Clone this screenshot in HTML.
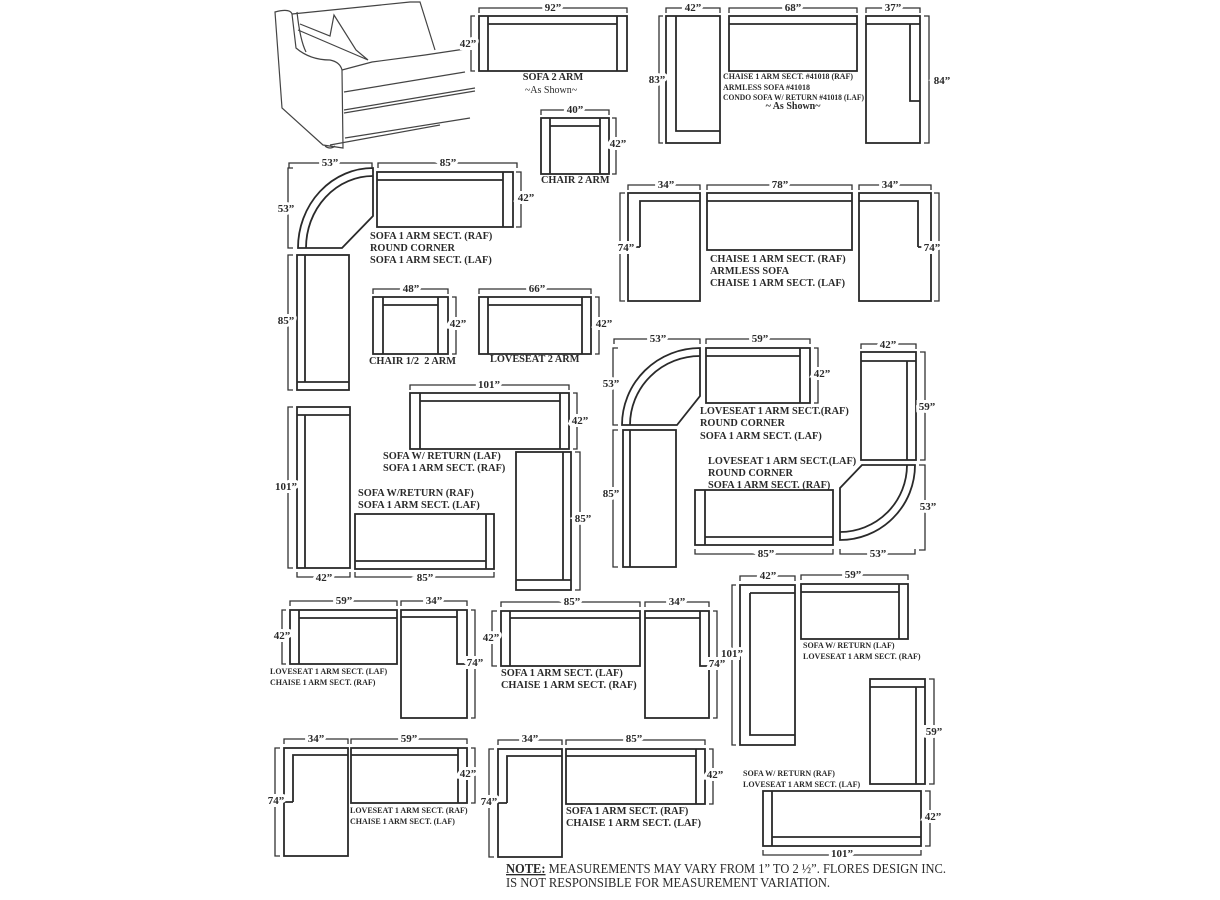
<!DOCTYPE html>
<html><head><meta charset="utf-8"><style>
html,body{margin:0;padding:0;background:#fff}
svg{display:block}
.s{fill:none;stroke:#2a2a2a;stroke-width:1.8}
.d{fill:none;stroke:#333;stroke-width:1.3}
.sk{fill:none;stroke:#444;stroke-width:1.2}
text{font-family:"Liberation Serif",serif;fill:#2a2a2a}
.m{font-size:11px;font-weight:bold;text-anchor:middle;stroke:#fff;stroke-width:6px;paint-order:stroke}
.l{font-size:10.3px;font-weight:bold}
.sm{font-size:8px;font-weight:bold}
</style></head><body>
<svg width="1220" height="900" viewBox="0 0 1220 900" xmlns="http://www.w3.org/2000/svg">
<!-- sketch -->
<g class="sk">
<path d="M275,12 Q290,8 292,14 L296,48 Q310,60 330,60 Q340,62 342,70 L343,148 L323,145 L282,108 Z"/>
<path d="M292,14 L410,2 L420,2 L435,50"/>
<path d="M297,12 Q300,40 306,52"/>
<path d="M300,24 L330,36 L334,15 L356,50 L368,60 L298,30"/>
<path d="M342,70 L372,62 L425,55 L465,49"/>
<path d="M344,92 L465,72"/>
<path d="M344,110 L475,88 M344,113 L475,91"/>
<path d="M330,145 L440,125 M345,138 L470,118"/>
<path d="M325,146 Q330,150 335,146"/>
</g>
<!-- SOFA 2 ARM -->
<rect class="s" x="479" y="16" width="148" height="55"/><path class="s" d="M488,16V71M617,16V71M488,24H617"/>
<path class="d" d="M479,13V8H627V13M475,16H471V71H475"/>
<text class="m" x="553" y="11">92”</text><text class="m" x="468" y="47">42”</text>
<text class="l" x="553" y="80" text-anchor="middle">SOFA 2 ARM</text><text x="551" y="93" text-anchor="middle" style="font-size:10px">~As Shown~</text>
<!-- 41018 set -->
<rect class="s" x="666" y="16" width="54" height="127"/><path class="s" d="M676,16V131H720"/>
<rect class="s" x="729" y="16" width="128" height="55"/><path class="s" d="M729,24H857"/>
<rect class="s" x="866" y="16" width="54" height="127"/><path class="s" d="M910,24V101H920M866,24H920"/>
<path class="d" d="M666,13V8H720V13M729,13V8H857V13M866,13V8H920V13M663,16H659V143H663M924,16H929V143H924"/>
<text class="m" x="693" y="11">42”</text><text class="m" x="793" y="11">68”</text><text class="m" x="893" y="11">37”</text>
<text class="m" x="657" y="83">83”</text><text class="m" x="942" y="84">84”</text>
<text class="sm" x="723" y="79" textLength="130" lengthAdjust="spacingAndGlyphs">CHAISE 1 ARM SECT. #41018 (RAF)</text>
<text class="sm" x="723" y="90">ARMLESS SOFA #41018</text>
<text class="sm" x="723" y="100" textLength="141" lengthAdjust="spacingAndGlyphs">CONDO SOFA W/ RETURN #41018 (LAF)</text>
<text x="793" y="109" text-anchor="middle" style="font-size:10px;font-weight:bold">~ As Shown~</text>
<!-- chair 2 arm -->
<rect class="s" x="541" y="118" width="68" height="56"/><path class="s" d="M550,118V174M600,118V174M550,126H600"/>
<path class="d" d="M541,115V110H609V115M612,118H616V174H612"/>
<text class="m" x="575" y="113">40”</text><text class="m" x="618" y="147">42”</text>
<text class="l" x="541" y="183">CHAIR 2 ARM</text>
<!-- round corner group 1 -->
<path class="s" d="M298,248A75,80 0 0 1 373,168V216L342,248Z"/><path class="s" d="M306,248A67,72 0 0 1 373,176"/>
<rect class="s" x="377" y="172" width="136" height="55"/><path class="s" d="M503,172V227M377,180H503"/>
<rect class="s" x="297" y="255" width="52" height="135"/><path class="s" d="M305,255V382M297,382H349"/>
<path class="d" d="M289,168V163H372V168M378,168V163H517V168M293,168H288V248H293M516,172H521V227H516M293,255H288V390H293"/>
<text class="m" x="330" y="166">53”</text><text class="m" x="448" y="166">85”</text>
<text class="m" x="286" y="212">53”</text><text class="m" x="526" y="201">42”</text><text class="m" x="286" y="324">85”</text>
<text class="l" x="370" y="239">SOFA 1 ARM SECT. (RAF)</text><text class="l" x="370" y="251">ROUND CORNER</text><text class="l" x="370" y="263">SOFA 1 ARM SECT. (LAF)</text>
<!-- chair 1/2 -->
<rect class="s" x="373" y="297" width="75" height="57"/><path class="s" d="M383,297V354M438,297V354M383,305H438"/>
<path class="d" d="M373,294V289H448V294M452,297H456V354H452"/>
<text class="m" x="411" y="292">48”</text><text class="m" x="458" y="327">42”</text>
<text class="l" x="369" y="364">CHAIR 1/2&#160; 2 ARM</text>
<!-- loveseat 2 arm -->
<rect class="s" x="479" y="297" width="112" height="57"/><path class="s" d="M488,297V354M582,297V354M488,305H582"/>
<path class="d" d="M479,294V289H591V294M595,297H599V354H595"/>
<text class="m" x="537" y="292">66”</text><text class="m" x="604" y="327">42”</text>
<text class="l" x="490" y="362">LOVESEAT 2 ARM</text>
<!-- chaise / armless / chaise -->
<rect class="s" x="628" y="193" width="72" height="108"/><path class="s" d="M640,247V201H700M628,247H640"/>
<rect class="s" x="707" y="193" width="145" height="57"/><path class="s" d="M707,201H852"/>
<rect class="s" x="859" y="193" width="72" height="108"/><path class="s" d="M918,247V201H859M918,247H931"/>
<path class="d" d="M628,190V185H700V190M707,190V185H852V190M859,190V185H931V190M625,193H620V301H625M934,193H939V301H934"/>
<text class="m" x="666" y="188">34”</text><text class="m" x="780" y="188">78”</text><text class="m" x="890" y="188">34”</text>
<text class="m" x="626" y="251">74”</text><text class="m" x="932" y="251">74”</text>
<text class="l" x="710" y="262">CHAISE 1 ARM SECT. (RAF)</text><text class="l" x="710" y="274">ARMLESS SOFA</text><text class="l" x="710" y="286">CHAISE 1 ARM SECT. (LAF)</text>
<!-- sofa w/ return group -->
<rect class="s" x="410" y="393" width="159" height="56"/><path class="s" d="M420,393V449M560,393V449M420,401H560"/>
<rect class="s" x="297" y="407" width="53" height="161"/><path class="s" d="M297,415H350M305,415V568"/>
<rect class="s" x="355" y="514" width="139" height="55"/><path class="s" d="M355,561H486M486,514V569"/>
<rect class="s" x="516" y="452" width="55" height="138"/><path class="s" d="M563,452V580M516,580H571"/>
<path class="d" d="M410,390V385H569V390M573,393H577V449H573M293,407H288V568H293M297,572V577H350V572M355,572V577H494V572M575,452H580V590H575"/>
<text class="m" x="489" y="388">101”</text><text class="m" x="580" y="424">42”</text><text class="m" x="286" y="490">101”</text>
<text class="m" x="324" y="581">42”</text><text class="m" x="425" y="581">85”</text><text class="m" x="583" y="522">85”</text>
<text class="l" x="383" y="459">SOFA W/ RETURN (LAF)</text><text class="l" x="383" y="471">SOFA 1 ARM SECT. (RAF)</text>
<text class="l" x="358" y="496">SOFA W/RETURN (RAF)</text><text class="l" x="358" y="508">SOFA 1 ARM SECT. (LAF)</text>
<!-- round corner group 2 -->
<path class="s" d="M622,425A78,77 0 0 1 700,348V396L677,425Z"/><path class="s" d="M630,425A70,69 0 0 1 700,356"/>
<rect class="s" x="706" y="348" width="104" height="55"/><path class="s" d="M800,348V403M706,356H800"/>
<rect class="s" x="623" y="430" width="53" height="137"/><path class="s" d="M630,430V567"/>
<path class="d" d="M614,344V339H700V344M706,344V339H810V344M618,348H613V425H618M814,348H818V403H814M618,430H613V567H618"/>
<text class="m" x="658" y="342">53”</text><text class="m" x="760" y="342">59”</text>
<text class="m" x="611" y="387">53”</text><text class="m" x="822" y="377">42”</text><text class="m" x="611" y="497">85”</text>
<text class="l" x="700" y="414">LOVESEAT 1 ARM SECT.(RAF)</text><text class="l" x="700" y="426">ROUND CORNER</text><text class="l" x="700" y="439">SOFA 1 ARM SECT. (LAF)</text>
<rect class="s" x="861" y="352" width="55" height="108"/><path class="s" d="M861,361H916M907,361V460"/>
<path class="s" d="M840,540V488L862,465H915A75,75 0 0 1 840,540Z"/><path class="s" d="M840,532A67,67 0 0 0 907,465"/>
<rect class="s" x="695" y="490" width="138" height="55"/><path class="s" d="M705,490V545M705,537H833"/>
<path class="d" d="M861,349V344H916V349M920,352H925V460H920M919,465H925V550H919M695,549V554H833V549M840,549V554H915V549"/>
<text class="m" x="888" y="348">42”</text><text class="m" x="927" y="410">59”</text><text class="m" x="928" y="510">53”</text>
<text class="m" x="766" y="557">85”</text><text class="m" x="878" y="557">53”</text>
<text class="l" x="708" y="464">LOVESEAT 1 ARM SECT.(LAF)</text><text class="l" x="708" y="476">ROUND CORNER</text><text class="l" x="708" y="488">SOFA 1 ARM SECT. (RAF)</text>
<!-- bottom row 1 -->
<rect class="s" x="290" y="610" width="107" height="54"/><path class="s" d="M299,610V664M299,618H397"/>
<rect class="s" x="401" y="610" width="66" height="108"/><path class="s" d="M401,617H457M457,610V664H467"/>
<path class="d" d="M290,606V601H397V606M401,606V601H467V606M286,610H282V664H286M471,610H475V718H471"/>
<text class="m" x="344" y="604">59”</text><text class="m" x="434" y="604">34”</text><text class="m" x="282" y="639">42”</text><text class="m" x="475" y="666">74”</text>
<text class="sm" x="270" y="674">LOVESEAT 1 ARM SECT. (LAF)</text><text class="sm" x="270" y="685">CHAISE 1 ARM SECT. (RAF)</text>
<rect class="s" x="501" y="611" width="139" height="55"/><path class="s" d="M510,611V666M510,618H640"/>
<rect class="s" x="645" y="611" width="64" height="107"/><path class="s" d="M645,618H700M700,611V666H709"/>
<path class="d" d="M501,607V602H640V607M645,607V602H709V607M497,611H492V666H497M713,611H717V718H713"/>
<text class="m" x="572" y="605">85”</text><text class="m" x="677" y="605">34”</text><text class="m" x="491" y="641">42”</text><text class="m" x="717" y="667">74”</text>
<text class="l" x="501" y="676">SOFA 1 ARM SECT. (LAF)</text><text class="l" x="501" y="688">CHAISE 1 ARM SECT. (RAF)</text>
<!-- right bottom group -->
<rect class="s" x="740" y="585" width="55" height="160"/><path class="s" d="M750,593H795M750,593V735H795"/>
<rect class="s" x="801" y="584" width="107" height="55"/><path class="s" d="M801,592H899M899,584V639"/>
<path class="d" d="M740,581V576H795V581M801,580V575H908V580M736,585H732V745H736"/>
<text class="m" x="768" y="579">42”</text><text class="m" x="853" y="578">59”</text><text class="m" x="732" y="657">101”</text>
<text class="sm" x="803" y="648">SOFA W/ RETURN (LAF)</text><text class="sm" x="803" y="659">LOVESEAT 1 ARM SECT. (RAF)</text>
<rect class="s" x="870" y="679" width="55" height="105"/><path class="s" d="M870,687H925M916,687V784"/>
<rect class="s" x="763" y="791" width="158" height="55"/><path class="s" d="M772,791V846M772,837H921"/>
<path class="d" d="M929,679H934V784H929M925,791H930V846H925M763,850V855H921V850"/>
<text class="m" x="934" y="735">59”</text><text class="m" x="933" y="820">42”</text><text class="m" x="842" y="857">101”</text>
<text class="sm" x="743" y="776">SOFA W/ RETURN (RAF)</text><text class="sm" x="743" y="787">LOVESEAT 1 ARM SECT. (LAF)</text>
<!-- bottom row 2 -->
<rect class="s" x="284" y="748" width="64" height="108"/><path class="s" d="M293,802V755H348M284,802H293"/>
<rect class="s" x="351" y="748" width="116" height="55"/><path class="s" d="M351,755H458M458,748V803"/>
<path class="d" d="M284,744V739H348V744M351,744V739H467V744M280,748H275V856H280M471,748H475V803H471"/>
<text class="m" x="316" y="742">34”</text><text class="m" x="409" y="742">59”</text><text class="m" x="276" y="804">74”</text><text class="m" x="468" y="777">42”</text>
<text class="sm" x="350" y="813">LOVESEAT 1 ARM SECT. (RAF)</text><text class="sm" x="350" y="824">CHAISE 1 ARM SECT. (LAF)</text>
<rect class="s" x="498" y="749" width="64" height="108"/><path class="s" d="M507,803V756H562M498,803H507"/>
<rect class="s" x="566" y="749" width="139" height="55"/><path class="s" d="M566,756H696M696,749V804"/>
<path class="d" d="M498,745V740H562V745M566,745V740H705V745M494,749H489V857H494M709,749H713V804H709"/>
<text class="m" x="530" y="742">34”</text><text class="m" x="634" y="742">85”</text><text class="m" x="489" y="805">74”</text><text class="m" x="715" y="778">42”</text>
<text class="l" x="566" y="814">SOFA 1 ARM SECT. (RAF)</text><text class="l" x="566" y="826">CHAISE 1 ARM SECT. (LAF)</text>
<!-- note -->
<text x="506" y="873" style="font-size:13.5px" textLength="440" lengthAdjust="spacingAndGlyphs"><tspan font-weight="bold" text-decoration="underline">NOTE:</tspan> MEASUREMENTS MAY VARY FROM 1” TO 2 ½”. FLORES DESIGN INC.</text>
<text x="506" y="887" style="font-size:13.5px" textLength="324" lengthAdjust="spacingAndGlyphs">IS NOT RESPONSIBLE FOR MEASUREMENT VARIATION.</text>
</svg>
</body></html>
